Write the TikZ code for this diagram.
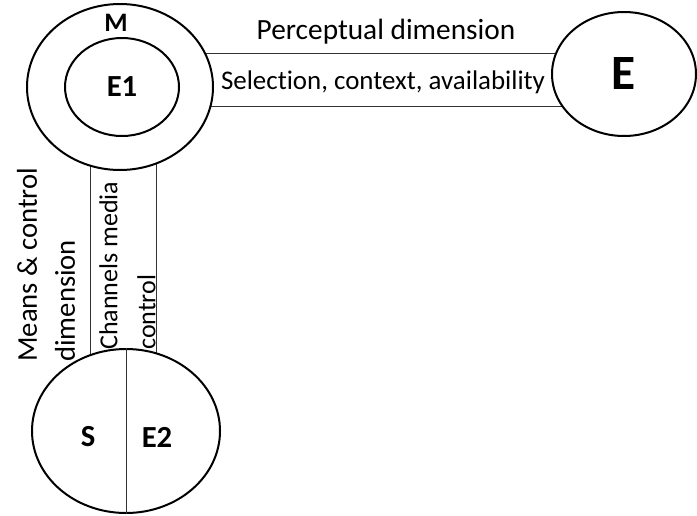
\documentclass[tikz,border=0pt]{standalone}
\usepackage{fontspec}
\setmainfont{Carlito}[Ligatures={NoCommon}]
\usetikzlibrary{shapes.geometric,backgrounds}

\begin{document}
\begin{tikzpicture}[x=0.75pt,y=-0.75pt,
  blob/.style n args={2}{ellipse,draw,line width=1.5pt,fill=white,minimum width=#1,minimum height=#2,inner sep=0pt},
  band/.style={draw=black!80,line width=0.75pt},
  txt/.style={font=\fontsize{#1}{28.5}\selectfont,inner sep=0pt},
  tag/.style={font=\fontsize{#1}{#1}\selectfont\bfseries,inner sep=0pt}]
\useasboundingbox (0,0) rectangle (697,515);
\node[blob={139.5pt}{124.5pt}] (M) at (120,87) {};
\node[blob={85.5pt}{73.5pt},tag=23] (E1) at (122,87) {E1};
\node[tag=20] (Mlab) at (116,23) {M};
\node[blob={108pt}{93pt},tag=37] (E) at (624,74) {E};
\node[blob={141pt}{123pt}] (SE) at (126,431) {};
\draw[band] (SE.north) -- (SE.south);
\node[tag=23] (S) at (88,437) {S};
\node[tag=23] (E2) at (157,437) {E2};
\begin{scope}[on background layer]
\foreach \y in {53,106} {
   \draw[band] (M.center |- 0,\y) -- (E.center |- 0,\y);
}
\foreach \x in {90,156} {
   \draw[band] (M.center -| \x,0) -- (SE.center -| \x,0);
}
\end{scope}
\node[txt=22] (pd) at (386,32) {Perceptual dimension};
\node[txt=20.2] (sca) at (383,82) {Selection, context, availability};
\node[txt=21.5,rotate=90,anchor=west,align=left] (mcd) at (46,362) {Means \& control\\dimension};
\node[txt=19.5,rotate=90,anchor=west,align=left] (cmc) at (127.5,350) {Channels media\\control};
\end{tikzpicture}
\end{document}
